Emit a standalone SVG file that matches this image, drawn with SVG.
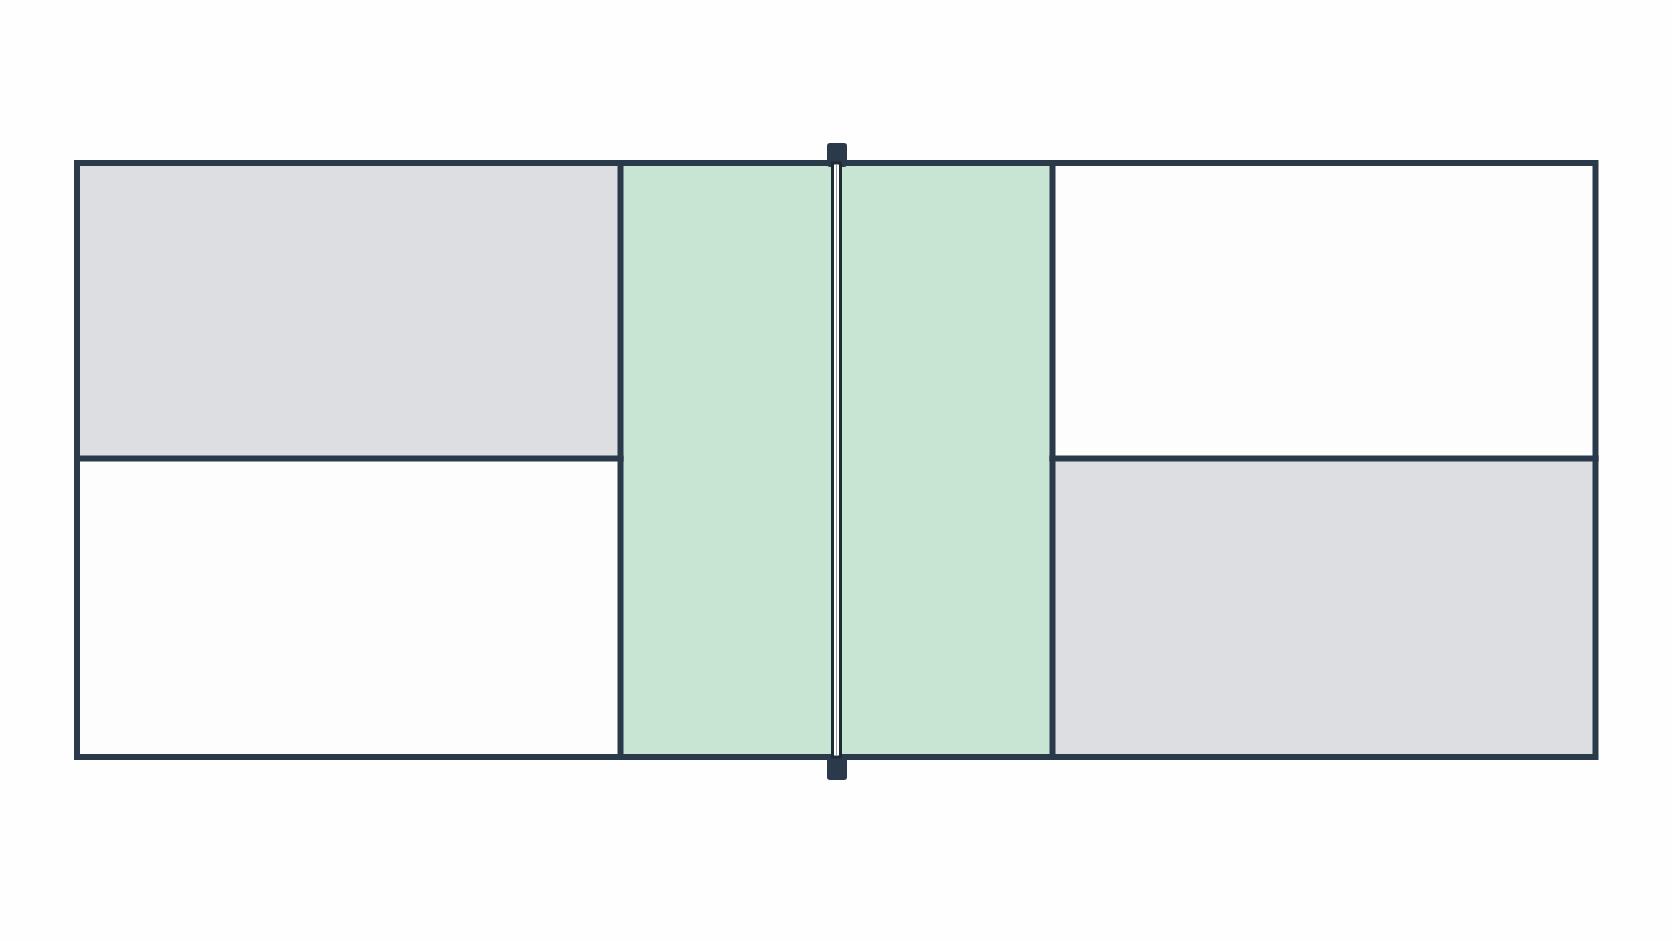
<svg xmlns="http://www.w3.org/2000/svg" width="1672" height="941" viewBox="0 0 1672 941">
<style>
.ln{stroke:#2b3a4b;stroke-width:6;fill:none;stroke-linecap:square}
.gray{fill:#dcdee1}
.green{fill:#c8e5d4}
.white{fill:#fdfdfd}
.post{fill:#2b3a4b}
</style>
<rect width="1672" height="941" fill="#fefefe"/>
<g id="court">
<rect id="zone-left-top" class="gray" x="77" y="163" width="543.5" height="295.5"/>
<rect id="zone-left-bottom" class="white" x="77" y="458.5" width="543.5" height="298.5"/>
<rect id="zone-kitchen" class="green" x="620.5" y="163" width="432" height="594"/>
<rect id="zone-right-top" class="white" x="1052.5" y="163" width="543" height="295.5"/>
<rect id="zone-right-bottom" class="gray" x="1052.5" y="458.5" width="543" height="298.5"/>
</g>
<g id="lines">
<rect class="ln" x="77" y="163" width="1518.5" height="594"/>
<line class="ln" x1="620.5" y1="163" x2="620.5" y2="757"/>
<line class="ln" x1="1052.5" y1="163" x2="1052.5" y2="757"/>
<line class="ln" x1="77" y1="458.5" x2="620.5" y2="458.5"/>
<line class="ln" x1="1052.5" y1="458.5" x2="1595.5" y2="458.5"/>
</g>
<g id="net">
<rect x="827" y="143" width="20" height="24" rx="3" class="post"/>
<rect x="827" y="756" width="20" height="24" rx="3" class="post"/>
<rect x="832.5" y="163" width="8" height="594" fill="#ffffff" stroke="#1e2a36" stroke-width="3"/>
<line x1="836.5" y1="164" x2="836.5" y2="756" stroke="#9aa3a8" stroke-width="1"/>
</g>
</svg>
